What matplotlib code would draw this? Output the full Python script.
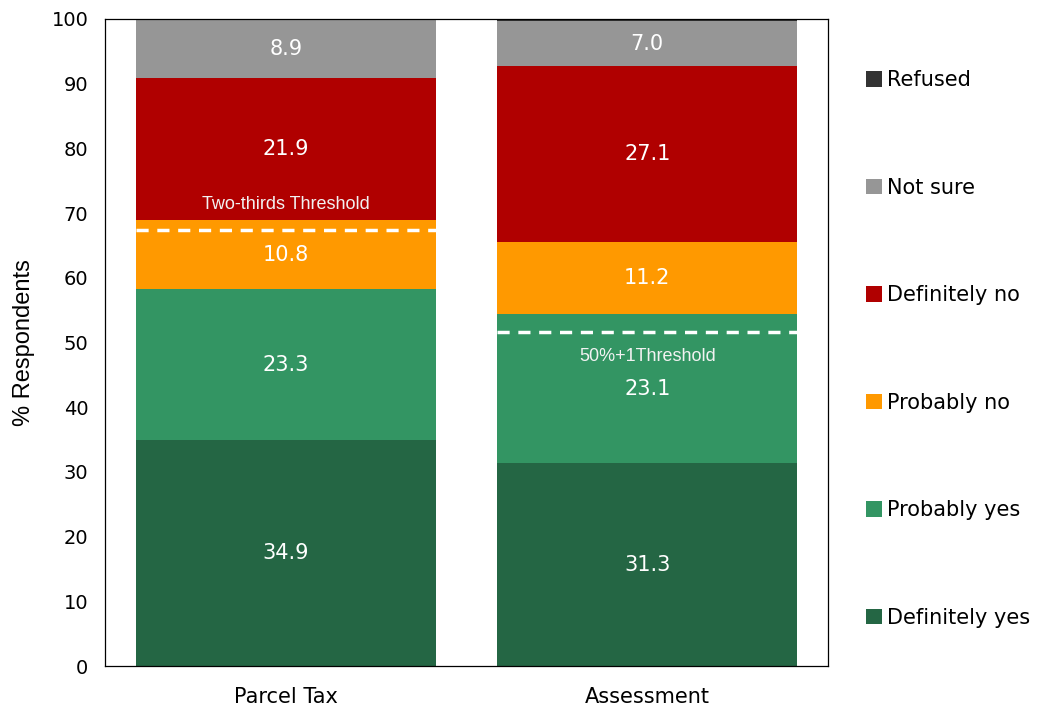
import matplotlib
matplotlib.use("Agg")
import matplotlib.pyplot as plt
from matplotlib.patches import Patch
import numpy as np

# Survey results (% respondents)
categories = ["Parcel Tax", "Assessment"]
responses = ["Definitely yes", "Probably yes", "Probably no",
             "Definitely no", "Not sure", "Refused"]
definitely_yes = [34.9, 31.3]
probably_yes = [23.3, 23.1]
probably_no = [10.8, 11.2]
definitely_no = [21.9, 27.1]
not_sure = [8.9, 7.0]
refused = [0.2, 0.3]
series = [definitely_yes, probably_yes, probably_no, definitely_no, not_sure, refused]
colors = ["#246644", "#339563", "#FF9900", "#B00000", "#969696", "#333333"]

# Passing thresholds drawn across each bar
threshold_values = [67.4, 51.6]
threshold_labels = ["Two-thirds Threshold", "50%+1Threshold"]
threshold_label_y = [71.4, 47.9]

fig = plt.figure(figsize=(10.38, 7.09), dpi=100)
ax = fig.add_axes([105 / 1038, 1 - 666 / 709, 723 / 1038, 647 / 709])

x = np.arange(len(categories))
width = 0.83
bottom = np.zeros(len(categories))
for vals, color, name in zip(series, colors, responses):
    vals = np.array(vals)
    ax.bar(x, vals, width, bottom=bottom, color=color, label=name, linewidth=0)
    if name != "Refused":
        for xi, v, b in zip(x, vals, bottom):
            ax.text(xi, b + v / 2, f"{v:.1f}", ha="center", va="center",
                    color="white", fontsize=15, family="DejaVu Sans")
    bottom += vals

for xi, tv, lab, ly in zip(x, threshold_values, threshold_labels, threshold_label_y):
    ax.hlines(tv, xi - width / 2, xi + width / 2, colors="white",
              linestyles=(0, (3.5, 2.5)), linewidth=2.5)
    ax.text(xi, ly, lab, ha="center", va="center", color="#F2F2F2",
            fontsize=13, family="Liberation Sans")

ax.set_xlim(-0.5, 1.5)
ax.set_ylim(0, 100)
ax.set_yticks(np.arange(0, 101, 10))
ax.set_xticks(x)
ax.set_xticklabels(categories)
ax.tick_params(axis="y", length=0, labelsize=14, pad=12)
ax.tick_params(axis="x", length=0, labelsize=15, pad=15)
for lbl in ax.get_xticklabels() + ax.get_yticklabels():
    lbl.set_family("DejaVu Sans")
ax.set_ylabel("% Respondents", fontsize=17, family="Liberation Sans", labelpad=12)
for s in ax.spines.values():
    s.set_linewidth(0.9)
    s.set_color("black")

handles = [Patch(facecolor=c, edgecolor="none") for c in colors][::-1]
labels = responses[::-1]
fig.legend(handles, labels, loc="upper left", bbox_to_anchor=(858 / 1038, 1 - 62 / 709),
           frameon=False, fontsize=15, labelspacing=4.2, handlelength=0.75,
           handleheight=0.75, handletextpad=0.25, borderaxespad=0)

fig.savefig("out.png", dpi=100)
